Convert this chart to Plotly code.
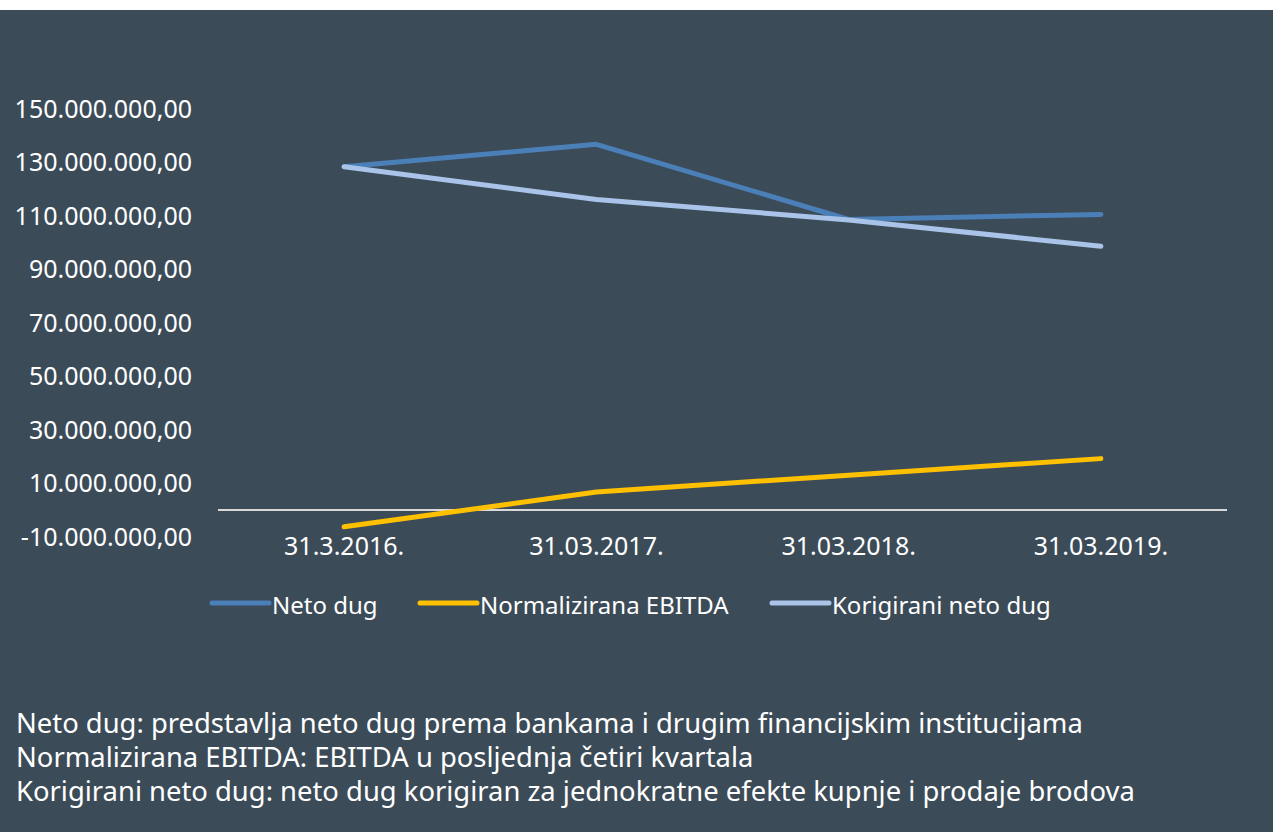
import plotly.graph_objects as go

# ---- data ----
categories = ["31.3.2016.", "31.03.2017.", "31.03.2018.", "31.03.2019."]
neto_dug = [128.4e6, 136.8e6, 108.7e6, 110.6e6]
normalizirana_ebitda = [-6.2e6, 6.8e6, 13.1e6, 19.3e6]
korigirani_neto_dug = [128.4e6, 116.2e6, 108.5e6, 98.7e6]
series_names = ["Neto dug", "Normalizirana EBITDA", "Korigirani neto dug"]
y_tickvals = [-10e6, 10e6, 30e6, 50e6, 70e6, 90e6, 110e6, 130e6, 150e6]
y_ticktext = ["-10.000.000,00", "10.000.000,00", "30.000.000,00", "50.000.000,00",
              "70.000.000,00", "90.000.000,00", "110.000.000,00", "130.000.000,00",
              "150.000.000,00"]
footnotes = [
    "Neto dug: predstavlja neto dug prema bankama i drugim financijskim institucijama",
    "Normalizirana EBITDA: EBITDA u posljednja četiri kvartala",
    "Korigirani neto dug: neto dug korigiran za jednokratne efekte kupnje i prodaje brodova",
]

# ---- layout geometry ----
W, H = 1273, 832
ML, MR, MT, MB = 218, 46, 109, 295
PW, PH = W - ML - MR, H - MT - MB

def px_x(x):
    return (x - ML) / PW

def px_y(y):
    return (H - MB - y) / PH

BG = "#3c4b58"
FONT = "Noto Sans, Open Sans, sans-serif"
colors = ["#4a7fb8", "#ffc000", "#a9c4e8"]
LW = 5

fig = go.Figure()
x_idx = list(range(len(categories)))
for name, vals, col in zip(series_names,
                           [neto_dug, normalizirana_ebitda, korigirani_neto_dug],
                           colors):
    fig.add_trace(go.Scatter(x=x_idx, y=vals, mode="lines", name=name,
                             line=dict(color=col, width=LW),
                             hoverinfo="skip", showlegend=False))

fig.update_layout(
    width=W, height=H,
    margin=dict(l=ML, r=MR, t=MT, b=MB, autoexpand=False),
    paper_bgcolor=BG, plot_bgcolor=BG,
    font=dict(family=FONT, size=25, color="#ffffff"),
    showlegend=False,
    hovermode=False,
    xaxis=dict(range=[-0.5, 3.5], tickmode="array", tickvals=x_idx,
               ticktext=categories, showgrid=False, zeroline=False,
               showline=False, ticks="", ticklabelstandoff=-8, fixedrange=True),
    yaxis=dict(range=[-10e6, 150e6], tickmode="array", tickvals=y_tickvals,
               ticktext=y_ticktext, showgrid=False, zeroline=True,
               zerolinecolor="#d9d9d9", zerolinewidth=1.6, showline=False,
               ticks="", ticklabelstandoff=25, fixedrange=True),
)

# white strip at the very top of the picture
fig.add_shape(type="rect", xref="paper", yref="paper",
              x0=px_x(-5), x1=px_x(W + 5), y0=px_y(10), y1=px_y(-5),
              fillcolor="#ffffff", line=dict(width=0), layer="above")

# legend (drawn as line samples + labels)
legend_line_x = [212, 420, 772]
LEG_Y = 603
for name, col, lx in zip(series_names, colors, legend_line_x):
    fig.add_shape(type="line", xref="paper", yref="paper",
                  x0=px_x(lx), x1=px_x(lx + 57), y0=px_y(LEG_Y), y1=px_y(LEG_Y),
                  line=dict(color=col, width=LW))
    fig.add_annotation(text=name, xref="paper", yref="paper",
                       x=px_x(lx + 58), y=px_y(LEG_Y + 1), xanchor="left",
                       yanchor="middle", showarrow=False,
                       font=dict(family=FONT, size=24, color="#ffffff"))

# footnotes
for txt, yc in zip(footnotes, [722, 756, 790]):
    fig.add_annotation(text=txt, xref="paper", yref="paper",
                       x=px_x(14), y=px_y(yc), xanchor="left", yanchor="middle",
                       showarrow=False, align="left",
                       font=dict(family=FONT, size=27.4, color="#ffffff"))

post = """
var st = document.createElement('style');
st.innerHTML = 'html,body{margin:0;padding:0;overflow:hidden;} .js-line{stroke-linecap:round;stroke-linejoin:round;} .shapelayer path{stroke-linecap:round;}';
document.head.appendChild(st);
"""
fig.write_html("out.html", post_script=post,
               config={"displayModeBar": False, "staticPlot": True})
